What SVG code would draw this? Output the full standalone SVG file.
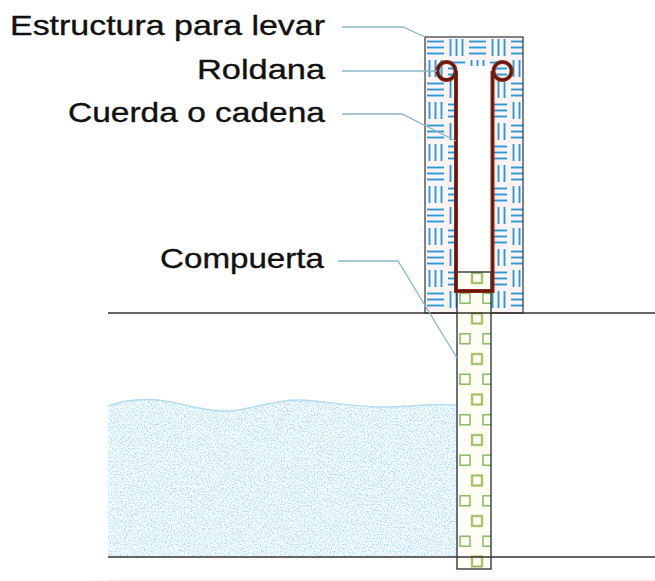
<svg xmlns="http://www.w3.org/2000/svg" width="655" height="581" viewBox="0 0 655 581">
  <style>
    .label { font-family: "Liberation Sans", Arial, sans-serif; font-size: 28px; fill: #111; stroke: #111; stroke-width: 0.35; }
    .leader { fill: none; stroke: #8db5c6; stroke-width: 1.3; }
    .ground { stroke: #3a3030; stroke-width: 1.5; }
    .rope { fill: none; stroke: #8a2b1c; stroke-width: 4; }
    .rope-core { fill: none; stroke: #5c140a; stroke-width: 1.6; }
    .sq { fill: none; stroke: #8cbf6a; stroke-width: 1.6; }
    .sq-halo { fill: none; stroke: #f3e6b6; stroke-width: 3.2; }
  </style>
  <defs>
    <!-- basket-weave hatch for the lifting frame -->
    <pattern id="weave" x="425" y="37" width="42" height="42" patternUnits="userSpaceOnUse">
      <rect width="42" height="42" fill="#fcf4f4"/>
      <g stroke="#2b9ad6" stroke-width="1.9">
        <!-- top-left: horizontal -->
        <line x1="2" y1="4.5" x2="19" y2="4.5"/>
        <line x1="2" y1="10.5" x2="19" y2="10.5"/>
        <line x1="2" y1="16.5" x2="19" y2="16.5"/>
        <!-- top-right: vertical -->
        <line x1="25.5" y1="2" x2="25.5" y2="19"/>
        <line x1="31.5" y1="2" x2="31.5" y2="19"/>
        <line x1="37.5" y1="2" x2="37.5" y2="19"/>
        <!-- bottom-left: vertical -->
        <line x1="4.5" y1="23" x2="4.5" y2="40"/>
        <line x1="10.5" y1="23" x2="10.5" y2="40"/>
        <line x1="16.5" y1="23" x2="16.5" y2="40"/>
        <!-- bottom-right: horizontal -->
        <line x1="23" y1="25.5" x2="40" y2="25.5"/>
        <line x1="23" y1="31.5" x2="40" y2="31.5"/>
        <line x1="23" y1="37.5" x2="40" y2="37.5"/>
      </g>
    </pattern>
    <!-- stippled water -->
    <filter id="speckle" x="0" y="0" width="1" height="1">
      <feTurbulence type="fractalNoise" baseFrequency="0.7" numOctaves="1" seed="7" result="noise"/>
      <feColorMatrix in="noise" type="matrix" values="0 0 0 0 0.42  0 0 0 0 0.74  0 0 0 0 0.95  4.2 0 0 0 -1.95" result="dots"/>
      <feComposite in="dots" in2="SourceGraphic" operator="in"/>
    </filter>
    <clipPath id="gateClip">
      <rect x="457" y="272" width="34" height="297"/>
    </clipPath>
    <path id="waterShape" d="M108,406 C125,400 145,398 165,401 S205,412 228,411 S275,399 300,400 S360,408 390,407 S435,403 457,405 L457,557 L108,557 Z"/>
  </defs>

  <!-- water -->
  <g id="water">
    <use href="#waterShape" fill="#f6fbfe"/>
    <use href="#waterShape" fill="#000" filter="url(#speckle)"/>
    <path d="M108,406 C125,400 145,398 165,401 S205,412 228,411 S275,399 300,400 S360,408 390,407 S435,403 457,405" fill="none" stroke="#b4dcf3" stroke-width="1.5"/>
  </g>

  <!-- lifting frame -->
  <g id="estructura">
    <rect x="425" y="37" width="98" height="276" fill="url(#weave)" stroke="#333" stroke-width="1.2"/>
    <rect x="457" y="66" width="35" height="225" fill="#fff"/>
  </g>

  <!-- gate -->
  <g id="compuerta">
    <rect x="457" y="272" width="34" height="297" fill="#fffdf4"/>
    <g clip-path="url(#gateClip)">
      <g id="gateSquares">
        <rect class="sq-halo" x="472" y="273" width="10" height="10"/>
        <rect class="sq-halo" x="472" y="313.5" width="10" height="10"/>
        <rect class="sq-halo" x="472" y="354" width="10" height="10"/>
        <rect class="sq-halo" x="472" y="394.5" width="10" height="10"/>
        <rect class="sq-halo" x="472" y="435" width="10" height="10"/>
        <rect class="sq-halo" x="472" y="475.5" width="10" height="10"/>
        <rect class="sq-halo" x="472" y="516" width="10" height="10"/>
        <rect class="sq-halo" x="472" y="556.5" width="10" height="10"/>
        <rect class="sq" x="472" y="273" width="10" height="10"/>
        <rect class="sq" x="472" y="313.5" width="10" height="10"/>
        <rect class="sq" x="472" y="354" width="10" height="10"/>
        <rect class="sq" x="472" y="394.5" width="10" height="10"/>
        <rect class="sq" x="472" y="435" width="10" height="10"/>
        <rect class="sq" x="472" y="475.5" width="10" height="10"/>
        <rect class="sq" x="472" y="516" width="10" height="10"/>
        <rect class="sq" x="472" y="556.5" width="10" height="10"/>
        <rect class="sq" x="460" y="293.25" width="10" height="10"/>
        <rect class="sq" x="460" y="333.75" width="10" height="10"/>
        <rect class="sq" x="460" y="374.25" width="10" height="10"/>
        <rect class="sq" x="460" y="414.75" width="10" height="10"/>
        <rect class="sq" x="460" y="455.25" width="10" height="10"/>
        <rect class="sq" x="460" y="495.75" width="10" height="10"/>
        <rect class="sq" x="460" y="536.25" width="10" height="10"/>
        <rect class="sq" x="483" y="293.25" width="10" height="10"/>
        <rect class="sq" x="483" y="333.75" width="10" height="10"/>
        <rect class="sq" x="483" y="374.25" width="10" height="10"/>
        <rect class="sq" x="483" y="414.75" width="10" height="10"/>
        <rect class="sq" x="483" y="455.25" width="10" height="10"/>
        <rect class="sq" x="483" y="495.75" width="10" height="10"/>
        <rect class="sq" x="483" y="536.25" width="10" height="10"/>
      </g>
    </g>
    <rect x="457" y="272" width="34" height="297" fill="none" stroke="#1e2b30" stroke-width="1.3"/>
  </g>

  <!-- ground lines -->
  <g id="terreno">
    <line class="ground" x1="108" y1="313" x2="655" y2="313"/>
    <line class="ground" x1="108" y1="557" x2="655" y2="557"/>
    <line x1="108" y1="580" x2="655" y2="580" stroke="#f6e4de" stroke-width="1"/>
  </g>

  <!-- pulleys and rope -->
  <g id="roldana">
    <circle class="rope" cx="446.5" cy="71" r="9"/>
    <circle class="rope" cx="502.5" cy="71" r="9"/>
    <circle class="rope-core" cx="446.5" cy="71" r="9"/>
    <circle class="rope-core" cx="502.5" cy="71" r="9"/>
  </g>
  <g id="cuerda">
    <path class="rope" d="M456,71 L456,291 L492.5,291 L492.5,71"/>
    <path class="rope-core" d="M456,71 L456,291 L492.5,291 L492.5,71"/>
  </g>

  <!-- labels -->
  <g id="label-estructura">
    <text class="label" x="10" y="35" textLength="315" lengthAdjust="spacingAndGlyphs">Estructura para levar</text>
  </g>
  <g id="label-roldana">
    <text class="label" x="197" y="79" textLength="128" lengthAdjust="spacingAndGlyphs">Roldana</text>
  </g>
  <g id="label-cuerda">
    <text class="label" x="68" y="122" textLength="257" lengthAdjust="spacingAndGlyphs">Cuerda o cadena</text>
  </g>
  <g id="label-compuerta">
    <text class="label" x="160" y="268" textLength="164" lengthAdjust="spacingAndGlyphs">Compuerta</text>
  </g>

  <!-- leader lines -->
  <g id="connectors">
    <polyline class="leader" points="342,27 403,27 425,37"/>
    <polyline class="leader" points="342,71 437,71"/>
    <polyline class="leader" points="342,114 402,114 456,141"/>
    <polyline class="leader" points="338,261 398,261 457,358"/>
  </g>
</svg>
